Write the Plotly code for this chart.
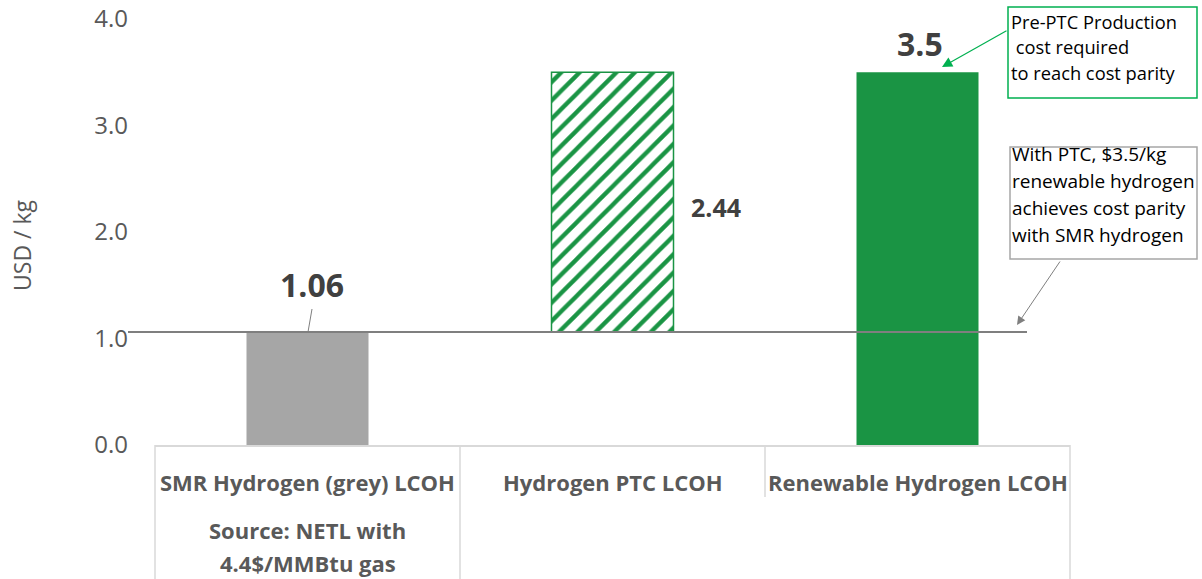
import plotly.graph_objects as go

# ---- data ----
categories = ["SMR Hydrogen (grey) LCOH", "Hydrogen PTC LCOH", "Renewable Hydrogen LCOH"]
sub_labels = [["Source: NETL with", "4.4$/MMBtu gas"], [], []]
bar_values = [1.06, 2.44, 3.5]          # bar heights
bar_bases = [0, 1.06, 0]                # PTC bar floats on top of SMR cost
data_labels = ["1.06", "2.44", "3.5"]
y_ticks = [0, 1, 2, 3, 4]
y_tick_labels = ["0.0", "1.0", "2.0", "3.0", "4.0"]
parity_level = 1.06
green_note = ["Pre-PTC Production", " cost required", "to reach cost parity"]
grey_note = ["With PTC, $3.5/kg", "renewable hydrogen", "achieves cost parity", "with SMR hydrogen"]

GREEN = "#1a9444"
GREY_BAR = "#a6a6a6"
TXT = "#595959"
DARK = "#404040"
FONT = "Open Sans"

W, H = 1202, 579
L, R, T, B = 155, 132, 19, 134
PW, PH = W - L - R, H - T - B

def px(xp):
    return (xp - L) / PW

def py(yp):
    return (H - B - yp) / PH

xs = list(range(len(categories)))

fig = go.Figure()
fig.add_trace(go.Bar(
    x=xs, y=bar_values, base=bar_bases, width=0.4,
    marker=dict(
        color=[GREY_BAR, GREEN, GREEN],
        line=dict(color=[GREY_BAR, GREEN, GREEN], width=[0, 1.5, 0]),
        pattern=dict(shape=["", "/", ""], fgcolor=[GREY_BAR, GREEN, GREEN],
                     bgcolor=["rgba(0,0,0,0)", "white", "rgba(0,0,0,0)"],
                     size=13, solidity=0.33, fillmode="replace"),
    ),
    hoverinfo="skip", showlegend=False,
))

shapes = []
# parity line
shapes.append(dict(type="line", xref="paper", yref="y", x0=px(128), x1=px(1027),
                   y0=parity_level, y1=parity_level, line=dict(color="#7f7f7f", width=2), layer="above"))
# connector from 1.06 label to bar top
shapes.append(dict(type="line", xref="paper", yref="paper", x0=px(312), y0=py(309),
                   x1=px(308), y1=py(332), line=dict(color="#7f7f7f", width=1)))
# category dividers
for xp, yb in [(155, 579), (460, 579), (765, 497), (1070, 579)]:
    shapes.append(dict(type="line", xref="paper", yref="paper", x0=px(xp), x1=px(xp),
                       y0=0, y1=py(yb), line=dict(color="#d9d9d9", width=1.5)))
# callout boxes
shapes.append(dict(type="rect", xref="paper", yref="paper", x0=px(1008), x1=px(1197),
                   y0=py(7), y1=py(98), line=dict(color="#00b050", width=1.5), fillcolor="white"))
shapes.append(dict(type="rect", xref="paper", yref="paper", x0=px(1010), x1=px(1197),
                   y0=py(147), y1=py(259), line=dict(color="#a6a6a6", width=1.5), fillcolor="white"))

annotations = []
# y axis title
annotations.append(dict(text="USD / kg", xref="paper", yref="paper", x=px(22), y=py(245),
                        xanchor="center", yanchor="middle",
                        textangle=-90, showarrow=False, font=dict(family=FONT, size=23, color=TXT)))
# category labels
for i, (c, subs) in enumerate(zip(categories, sub_labels)):
    annotations.append(dict(text="<b>%s</b>" % c, xref="x", yref="paper", x=i, y=py(482),
                            yanchor="middle", showarrow=False,
                            font=dict(family=FONT, size=22, color=TXT)))
    for k, s in enumerate(subs):
        annotations.append(dict(text="<b>%s</b>" % s, xref="x", yref="paper", x=i, y=py(530 + 33 * k),
                                yanchor="middle", showarrow=False,
                                font=dict(family=FONT, size=22, color=TXT)))
# data labels
label_pos = [dict(yshift=48, xshift=4, size=32), dict(yshift=-5, xshift=103, size=25),
             dict(yshift=29, xshift=2, size=32)]
for i, (v, b, t) in enumerate(zip(bar_values, bar_bases, data_labels)):
    p = label_pos[i]
    yv = b + v if i != 1 else b + v / 2
    annotations.append(dict(text="<b>%s</b>" % t, xref="x", yref="y", x=i, y=yv,
                            xshift=p["xshift"], yshift=p["yshift"], showarrow=False,
                            yanchor="middle",
                            font=dict(family=FONT, size=p["size"], color=DARK)))
# callout texts
for k, line in enumerate(green_note):
    annotations.append(dict(text=line, xref="paper", yref="paper", x=px(1009), y=py(22 + 25 * k),
                            xanchor="left", yanchor="middle", showarrow=False,
                            font=dict(family=FONT, size=18.3, color="black")))
for k, line in enumerate(grey_note):
    annotations.append(dict(text=line, xref="paper", yref="paper", x=px(1010), y=py(154 + 27 * k),
                            xanchor="left", yanchor="middle", showarrow=False,
                            font=dict(family=FONT, size=19, color="black")))
# arrows
annotations.append(dict(text="", xref="paper", yref="paper", x=px(942), y=py(67),
                        ax=1008 - 942, ay=30 - 67, showarrow=True, arrowhead=2, arrowsize=1.7,
                        arrowwidth=1.2, arrowcolor="#00b050"))
annotations.append(dict(text="", xref="paper", yref="paper", x=px(1017), y=py(325),
                        ax=1061 - 1017, ay=260 - 325, showarrow=True, arrowhead=2, arrowsize=1.7,
                        arrowwidth=1, arrowcolor="#7f7f7f"))

fig.update_layout(
    width=W, height=H, margin=dict(l=L, r=R, t=T, b=B, autoexpand=False),
    paper_bgcolor="white", plot_bgcolor="white",
    shapes=shapes, annotations=annotations,
    xaxis=dict(range=[-0.5, len(categories) - 0.5], showticklabels=False, showgrid=False,
               zeroline=False, showline=True, linecolor="#d9d9d9", linewidth=2,
               fixedrange=True, automargin=False),
    yaxis=dict(range=[0, 4], tickvals=y_ticks, ticktext=y_tick_labels, showgrid=False,
               zeroline=False, showline=False, ticklabelstandoff=26, automargin=False,
               tickfont=dict(family=FONT, size=24, color=TXT), fixedrange=True),
)

fig.write_html("out.html", config={"displayModeBar": False})
